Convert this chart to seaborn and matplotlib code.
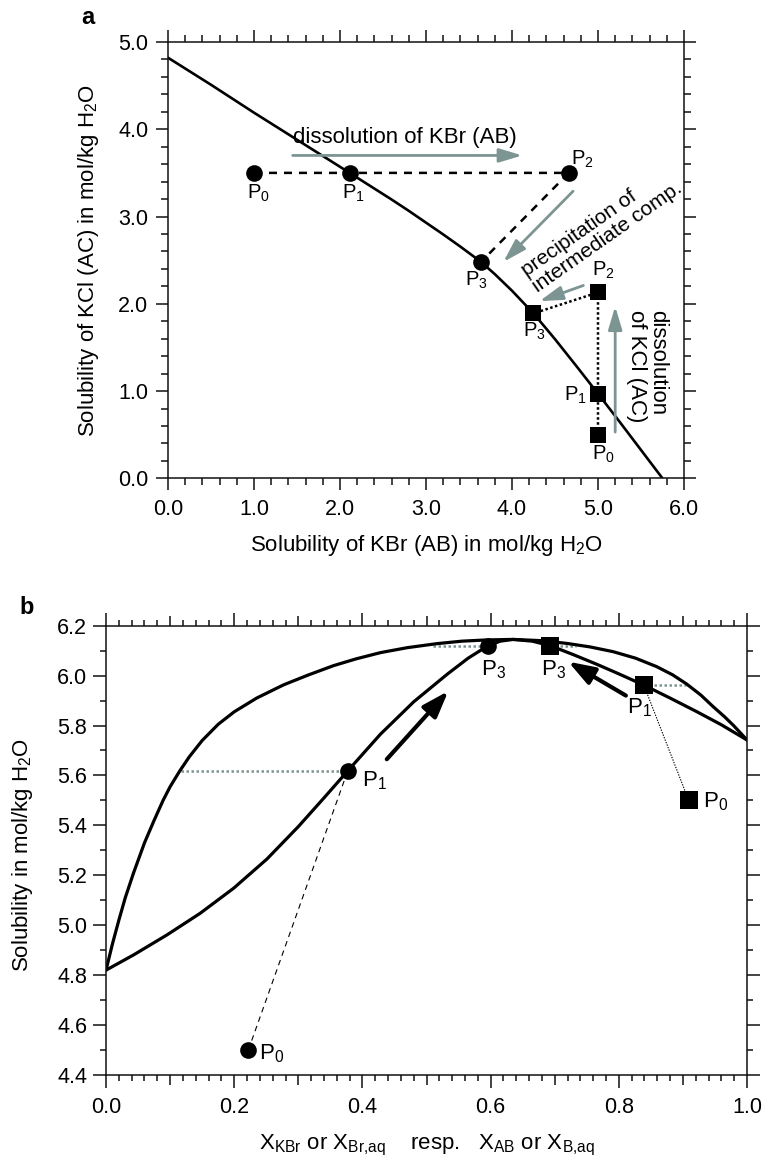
import matplotlib
matplotlib.use("Agg")
import matplotlib.pyplot as plt
from matplotlib.ticker import MultipleLocator, FixedLocator, FuncFormatter
import seaborn as sns

# ---------------- panel a: KBr / KCl solubility diagram ----------------
# saturation curve of the solid solution (KBr molality vs KCl molality)
a_curve_x = [0.0, 0.5, 1.0, 1.5, 2.0, 2.2, 2.4, 2.6, 2.8, 3.0, 3.2, 3.4, 3.64,
             3.8, 4.0, 4.25, 4.5, 4.75, 5.0, 5.25, 5.5, 5.75]
a_curve_y = [4.82, 4.51, 4.19, 3.88, 3.57, 3.445, 3.32, 3.195, 3.065, 2.93, 2.795, 2.655, 2.48,
             2.34, 2.15, 1.89, 1.595, 1.285, 0.97, 0.65, 0.325, 0.0]
# path for dissolution of KBr (circles): P0, P1, P2, P3
a_circ_x = [1.00, 2.12, 4.66, 3.64]
a_circ_y = [3.50, 3.50, 3.50, 2.48]
# path for dissolution of KCl (squares): P0, P1, P2, P3
a_sq_x = [5.00, 5.00, 5.00, 4.25]
a_sq_y = [0.50, 0.97, 2.13, 1.89]
a_point_names = ["P$_0$", "P$_1$", "P$_2$", "P$_3$"]
a_xticks = [0.0, 1.0, 2.0, 3.0, 4.0, 5.0, 6.0]
a_yticks = [0.0, 1.0, 2.0, 3.0, 4.0, 5.0]

# ---------------- panel b: solubility vs. mole fraction ----------------
# solid-phase composition (X_KBr)
b_solid_x = [0.0, 0.01, 0.02, 0.03, 0.043, 0.06, 0.075, 0.089, 0.1, 0.115, 0.13, 0.15,
             0.175, 0.2, 0.235, 0.277, 0.315, 0.355, 0.39, 0.428, 0.47, 0.516, 0.555,
             0.594, 0.635, 0.68, 0.719, 0.755, 0.791, 0.826, 0.859, 0.884, 0.906,
             0.928, 0.947, 0.965, 0.979, 1.0]
b_solid_y = [4.82, 4.925, 5.02, 5.11, 5.21, 5.33, 5.42, 5.50, 5.555, 5.618, 5.675, 5.74,
             5.805, 5.855, 5.91, 5.963, 6.002, 6.04, 6.067, 6.092, 6.112, 6.128, 6.138,
             6.143, 6.145, 6.14, 6.129, 6.115, 6.096, 6.07, 6.036, 6.003, 5.966,
             5.922, 5.876, 5.835, 5.80, 5.742]
# aqueous composition (X_Br,aq)
b_aq_x = [0.0, 0.043, 0.095, 0.147, 0.199, 0.251, 0.3, 0.34, 0.377, 0.428, 0.48,
          0.532, 0.565, 0.596, 0.615, 0.635, 0.665, 0.693, 0.73, 0.766, 0.8, 0.839,
          0.88, 0.922, 0.96, 1.0]
b_aq_y = [4.82, 4.881, 4.961, 5.048, 5.148, 5.265, 5.395, 5.51, 5.618, 5.765, 5.895,
          6.005, 6.07, 6.12, 6.138, 6.145, 6.138, 6.12, 6.083, 6.045, 6.007, 5.962,
          5.91, 5.855, 5.803, 5.742]
# circles: P0, P1, P3 ; squares: P0, P1, P3
b_circ_x = [0.222, 0.377, 0.596]
b_circ_y = [4.50, 5.618, 6.12]
b_sq_x = [0.909, 0.839, 0.693]
b_sq_y = [5.50, 5.962, 6.12]
b_point_names = ["P$_0$", "P$_1$", "P$_3$"]
# tie lines between aqueous and solid composition
b_tie_x0 = [0.117, 0.51, 0.839, 0.693]
b_tie_x1 = [0.377, 0.596, 0.905, 0.733]
b_tie_y = [5.618, 6.12, 5.962, 6.12]
b_xticks = [0.0, 0.1, 0.2, 0.3, 0.4, 0.5, 0.6, 0.7, 0.8, 0.9, 1.0]
b_yticks = [4.4, 4.6, 4.8, 5.0, 5.2, 5.4, 5.6, 5.8, 6.0, 6.2]

# ---------------- style ----------------
sns.set_theme(style="ticks")
plt.rcParams["font.family"] = ["Liberation Sans", "DejaVu Sans"]
plt.rcParams["mathtext.fontset"] = "custom"
plt.rcParams["mathtext.rm"] = "Liberation Sans"
plt.rcParams["mathtext.default"] = "regular"
plt.rcParams["axes.edgecolor"] = "#111111"
plt.rcParams["axes.linewidth"] = 1.1
plt.rcParams["text.color"] = "black"
plt.rcParams["axes.labelcolor"] = "black"
plt.rcParams["xtick.color"] = "#111111"
plt.rcParams["ytick.color"] = "#111111"
plt.rcParams["xtick.labelcolor"] = "black"
plt.rcParams["ytick.labelcolor"] = "black"

TICK_FS = 15.5
LABEL_FS = 16
NOTE_FS = 16
GREY = "#7c9592"
INK = "black"

fig = plt.figure(figsize=(7.65, 11.63), dpi=100)
axa = fig.add_axes([0.2196, 0.5887, 0.8941 - 0.2196, 0.9639 - 0.5887])
axb = fig.add_axes([0.1386, 0.0757, 0.9765 - 0.1386, 0.4620 - 0.0757])


def style_axes(ax):
    ax.tick_params(which="both", direction="out", top=True, right=True,
                   labeltop=False, labelright=False, color="#111111",
                   labelcolor="black", labelsize=TICK_FS, width=1.1)
    ax.tick_params(which="major", length=8.6)
    ax.tick_params(which="minor", length=5.0)
    for s in ax.spines.values():
        s.set_visible(True)
        s.set_zorder(10)


def arrow(ax, start, tip, color, lw, hl, hw, ms):
    ax.annotate("", xy=tip, xytext=start,
                arrowprops=dict(arrowstyle=f"-|>,head_length={hl},head_width={hw}",
                                color=color, lw=lw, mutation_scale=ms,
                                shrinkA=0, shrinkB=0),
                zorder=4)


# ================= panel a =================
sns.lineplot(x=a_curve_x, y=a_curve_y, sort=False, estimator=None,
             color=INK, lw=1.9, ax=axa, zorder=3)
sns.lineplot(x=a_circ_x, y=a_circ_y, sort=False, estimator=None,
             color=INK, lw=1.8, linestyle=(0, (3.2, 2.8)), ax=axa, zorder=3)
sns.lineplot(x=a_sq_x, y=a_sq_y, sort=False, estimator=None,
             color=INK, lw=1.8, linestyle=(0, (1.0, 1.0)), ax=axa, zorder=3)
sns.scatterplot(x=a_circ_x, y=a_circ_y, marker="o", s=144, color=INK,
                linewidth=0, ax=axa, zorder=5)
sns.scatterplot(x=a_sq_x, y=a_sq_y, marker="s", s=117, color=INK,
                linewidth=0, ax=axa, zorder=5)

axa.set_xlim(0, 6)
axa.set_ylim(0, 5)
axa.xaxis.set_major_locator(FixedLocator(a_xticks))
axa.yaxis.set_major_locator(FixedLocator(a_yticks))
axa.xaxis.set_minor_locator(MultipleLocator(0.2))
axa.yaxis.set_minor_locator(MultipleLocator(0.2))
axa.xaxis.set_major_formatter(FuncFormatter(lambda v, p: f"{v:.1f}"))
axa.yaxis.set_major_formatter(FuncFormatter(lambda v, p: f"{v:.1f}"))
style_axes(axa)
axa.tick_params(axis="x", pad=6.5)
axa.tick_params(axis="y", pad=5.5)

axa.set_xlabel("Solubility of KBr (AB) in mol/kg H$_2$O", fontsize=LABEL_FS, va="center")
axa.set_ylabel("Solubility of KCl (AC) in mol/kg H$_2$O", fontsize=LABEL_FS, va="center")
axa.xaxis.set_label_coords(0.5, -0.153)
axa.yaxis.set_label_coords(-0.155, 0.5)

# point labels (offsets in points)
a_circ_off = [(3, -15), (2, -15), (10, 10), (-3, -13)]
for (x, y), name, off in zip(zip(a_circ_x, a_circ_y), a_point_names, a_circ_off):
    axa.annotate(name, (x, y), xytext=off, textcoords="offset points",
                 ha="center", va="center", fontsize=14.5, zorder=6)
a_sq_off = [(4, -14), (-16, -1.5), (4, 16), (1, -13)]
for (x, y), name, off in zip(zip(a_sq_x, a_sq_y), a_point_names, a_sq_off):
    axa.annotate(name, (x, y), xytext=off, textcoords="offset points",
                 ha="center", va="center", fontsize=14.5, zorder=6)

# process arrows
arrow(axa, (1.45, 3.70), (4.12, 3.70), GREY, 2.0, 1.0, 0.3, 14)
arrow(axa, (4.71, 3.29), (3.90, 2.48), GREY, 2.0, 1.0, 0.3, 14)
arrow(axa, (4.83, 2.21), (4.32, 2.03), GREY, 2.0, 1.0, 0.3, 14)
arrow(axa, (5.20, 0.53), (5.20, 1.97), GREY, 2.0, 1.0, 0.3, 14)

axa.text(2.76, 3.90, "dissolution of KBr (AB)", fontsize=NOTE_FS,
         ha="center", va="center")
axa.text(5.04, 2.855, "precipitation of\nintermediate comp.", fontsize=15,
         ha="center", va="center", rotation=35, rotation_mode="anchor",
         multialignment="left", linespacing=1.0)
axa.text(5.57, 1.28, "dissolution\nof KCl (AC)", fontsize=NOTE_FS,
         ha="center", va="center", rotation=270, rotation_mode="anchor",
         multialignment="left", linespacing=1.0)

# ================= panel b =================
for x0, x1, y in zip(b_tie_x0, b_tie_x1, b_tie_y):
    sns.lineplot(x=[x0, x1], y=[y, y], sort=False, estimator=None, color=GREY,
                 lw=1.8, linestyle=(0, (1.0, 1.0)), ax=axb, zorder=2)
sns.lineplot(x=b_solid_x, y=b_solid_y, sort=False, estimator=None,
             color=INK, lw=2.3, ax=axb, zorder=3)
sns.lineplot(x=b_aq_x, y=b_aq_y, sort=False, estimator=None,
             color=INK, lw=2.3, ax=axb, zorder=3)
sns.lineplot(x=b_circ_x[:2], y=b_circ_y[:2], sort=False, estimator=None,
             color=INK, lw=0.8, linestyle=(0, (5, 4)), ax=axb, zorder=3)
sns.lineplot(x=b_sq_x[:2], y=b_sq_y[:2], sort=False, estimator=None,
             color=INK, lw=0.8, linestyle=(0, (1.2, 1.2)), ax=axb, zorder=3)
sns.scatterplot(x=b_circ_x, y=b_circ_y, marker="o", s=144, color=INK,
                linewidth=0, ax=axb, zorder=5)
sns.scatterplot(x=b_sq_x, y=b_sq_y, marker="s", s=162, color=INK,
                linewidth=0, ax=axb, zorder=5)

axb.set_xlim(0, 1)
axb.set_ylim(4.4, 6.2)
axb.xaxis.set_major_locator(FixedLocator(b_xticks))
axb.xaxis.set_major_formatter(
    FuncFormatter(lambda v, p: f"{v:.1f}" if round(v * 10) % 2 == 0 else ""))
axb.xaxis.set_minor_locator(MultipleLocator(0.02))
axb.yaxis.set_major_locator(FixedLocator(b_yticks))
axb.yaxis.set_major_formatter(FuncFormatter(lambda v, p: f"{v:.1f}"))
axb.yaxis.set_minor_locator(MultipleLocator(0.1))
style_axes(axb)
axb.tick_params(which="major", length=9.1)
axb.tick_params(which="minor", length=4.3)
axb.tick_params(axis="x", pad=6.5)
axb.tick_params(axis="y", pad=4.5)
# intermediate (0.1) ticks on the x axis are shorter than the labelled ones
for t, v in zip(axb.xaxis.get_major_ticks(), b_xticks):
    L = 9.1 if round(v * 10) % 2 == 0 else 7.0
    t.tick1line.set_markersize(L)
    t.tick2line.set_markersize(L)

axb.set_xlabel("X$_{KBr}$ or X$_{Br{,}aq}$    resp.   X$_{AB}$ or X$_{B{,}aq}$",
               fontsize=LABEL_FS, va="center")
axb.set_ylabel("Solubility in mol/kg H$_2$O", fontsize=LABEL_FS, va="center")
axb.xaxis.set_label_coords(0.5, -0.156)
axb.yaxis.set_label_coords(-0.131, 0.49)

b_circ_off = [(17, -3), (19, -7), (4, -17)]
for (x, y), name, off in zip(zip(b_circ_x, b_circ_y), b_point_names, b_circ_off):
    axb.annotate(name, (x, y), xytext=off, textcoords="offset points",
                 ha="center", va="center", fontsize=16, zorder=6)
b_sq_off = [(19, -1), (-3, -16), (2, -17)]
for (x, y), name, off in zip(zip(b_sq_x, b_sq_y), b_point_names, b_sq_off):
    axb.annotate(name, (x, y), xytext=off, textcoords="offset points",
                 ha="center", va="center", fontsize=16, zorder=6)

arrow(axb, (0.438, 5.665), (0.534, 5.938), INK, 3.0, 1.0, 0.35, 16)
arrow(axb, (0.811, 5.920), (0.721, 6.056), INK, 3.0, 1.0, 0.35, 16)

# panel letters
fig.text(0.115, 0.985, "a", fontsize=17, fontweight="bold", ha="center", va="center")
fig.text(0.035, 0.478, "b", fontsize=17, fontweight="bold", ha="center", va="center")

fig.savefig("out.png", dpi=100)
